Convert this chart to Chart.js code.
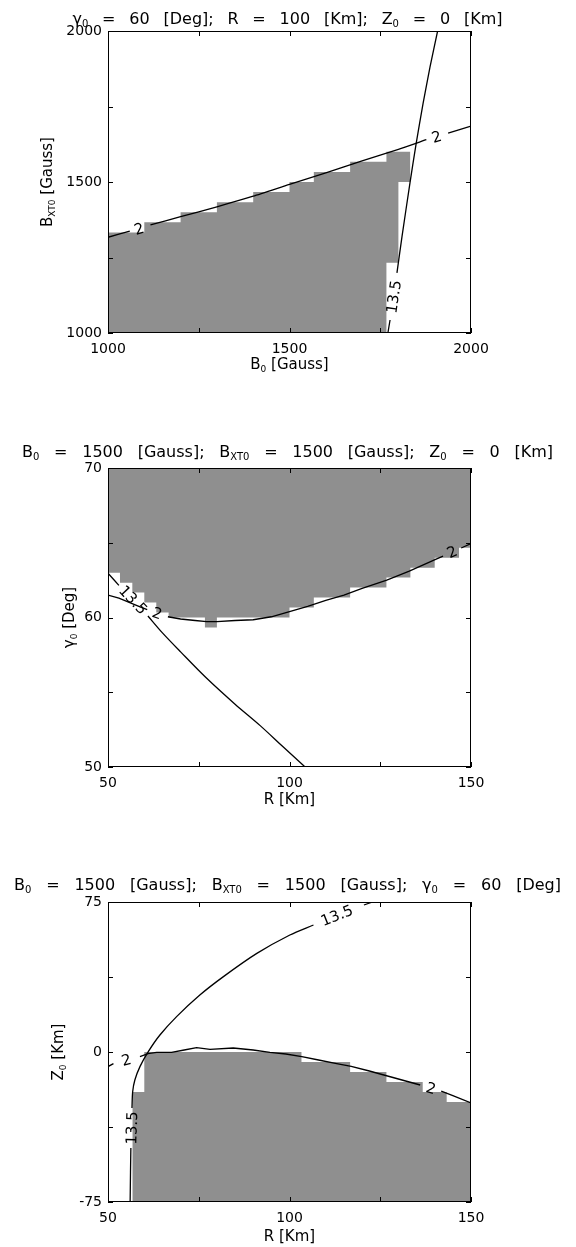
<!DOCTYPE html>
<html><head><meta charset="utf-8">
<script src="https://cdn.jsdelivr.net/npm/chart.js@4.4.1/dist/chart.umd.min.js"></script>
<style>
html,body{margin:0;padding:0;background:#fff;}
body{width:576px;height:1247px;position:relative;overflow:hidden;}
canvas{position:absolute;left:0;}
</style></head>
<body>
<canvas id="c1" width="576" height="400" style="top:0px"></canvas>
<canvas id="c2" width="576" height="440" style="top:400px"></canvas>
<canvas id="c3" width="576" height="407" style="top:840px"></canvas>
<script>
// ---------------- Panel 1 : B0 vs BXT0 ----------------
const p1XTicks = [1000, 1250, 1500, 1750, 2000];
const p1XTickLabels = [1000, 1500, 2000];
const p1YTicks = [1000, 1250, 1500, 1750, 2000];
const p1YTickLabels = [1000, 1500, 2000];
const p1ShadeEdgesB0 = [1000, 1100, 1200, 1300, 1400, 1500, 1567, 1667, 1767, 1833];
const p1ShadeTopBxt0 = [1333, 1367, 1400, 1433, 1467, 1500, 1533, 1567, 1600];
const p1ShadeBaseEdgesB0 = [1000, 1767, 1800, 1833];
const p1ShadeBaseBxt0 = [1000, 1233, 1500];
const p1Level2B0   = [1000, 1060, 1085, 1117, 1200, 1300, 1400, 1500, 1600, 1700, 1800, 1877, 1905, 1937, 2000];
const p1Level2Bxt0 = [1317, 1337, null, 1358, 1385, 1418, 1453, 1492, 1530, 1570, 1608, 1640, null, 1662, 1685];
const p1Level135B0   = [1771, 1777, 1786, 1796, 1810, 1832, 1849, 1868, 1887, 1908];
const p1Level135Bxt0 = [1000, 1043, null, 1199, 1320, 1498, 1628, 1760, 1880, 2000];
const p1LabelText = ['2', '2', '13.5'];
const p1LabelB0   = [1085, 1905, 1786];
const p1LabelBxt0 = [1346, 1651, 1120];
const p1LabelLine = [0, 0, 1];

// ---------------- Panel 2 : R vs gamma0 ----------------
const p2XTicks = [50, 75, 100, 125, 150];
const p2XTickLabels = [50, 100, 150];
const p2YTicks = [50, 55, 60, 65, 70];
const p2YTickLabels = [50, 60, 70];
const p2ShadeEdgesR = [50, 53.3, 56.7, 60, 63.3, 66.7, 76.7, 80, 100, 106.7, 116.7, 126.7, 133.3, 140, 146.7, 150];
const p2ShadeBottomGamma = [63.0, 62.33, 61.67, 61.0, 60.33, 60.0, 59.33, 60.0, 60.67, 61.33, 62.0, 62.67, 63.33, 64.0, 64.67];
const p2Level2R     = [50, 53, 56, 59, 60.8, 63.6, 66.5, 70, 74, 77.2, 80, 85, 90, 95, 100, 105, 110, 115, 120, 126.8, 133, 140.4, 142.3, 144.7, 147.3, 150];
const p2Level2Gamma = [61.5, 61.3, 61.0, 60.7, 60.52, null, 60.05, 59.9, 59.8, 59.72, 59.72, 59.8, 59.85, 60.05, 60.4, 60.75, 61.15, 61.5, 61.95, 62.5, 63.1, 63.9, 64.1, null, 64.65, 64.95];
const p2Level135R     = [50, 53, 57, 61, 65, 70, 76.9, 85, 92, 98, 104.3];
const p2Level135Gamma = [62.96, 62.15, null, 60.1, 58.97, 57.7, 56.0, 54.2, 52.75, 51.4, 50];
const p2LabelText  = ['2', '2', '13.5'];
const p2LabelR     = [63.6, 144.7, 57];
const p2LabelGamma = [60.3, 64.4, 61.2];
const p2LabelLine  = [0, 0, 1];

// ---------------- Panel 3 : R vs Z0 ----------------
const p3XTicks = [50, 75, 100, 125, 150];
const p3XTickLabels = [50, 100, 150];
const p3YTicks = [-75, -37.5, 0, 37.5, 75];
const p3YTickLabels = [-75, 0, 75];
const p3ShadeEdgesR = [56.7, 60, 103.3, 116.7, 126.7, 136.7, 143.3, 150];
const p3ShadeTopZ0  = [-20, 0, -5, -10, -15, -20, -25];
const p3Level2R  = [50, 51.5, 55, 58.8, 61, 63.4, 67.5, 71, 74.4, 78.1, 84.5, 90, 94.6, 99, 103.4, 108, 113, 117, 122, 127, 132, 136, 139, 141.8, 145, 150];
const p3Level2Z0 = [-7.3, -5.8, null, -2.3, -0.8, -0.2, -0.2, 1.0, 2.2, 1.3, 2.0, 1.0, -0.2, -1.0, -2.3, -4.0, -5.8, -7.2, -9.5, -12.0, -14.5, -16.5, null, -19.6, -21.8, -25.5];
const p3Level135R  = [56.1, 56.2, 56.3, 56.45, 56.6, 56.8, 57.4, 58.8, 61.1, 64.3, 68.9, 75.3, 81.8, 91, 100.1, 106.6, 113, 120.5, 124.5];
const p3Level135Z0 = [-75, -60, -48, null, -28, -19.8, -14, -7.3, 0.2, 8.5, 17.7, 28.5, 37.7, 49.3, 58.5, 63.5, null, 73.5, 76];
const p3LabelText = ['2', '2', '13.5', '13.5'];
const p3LabelR    = [55, 139, 56.45, 113];
const p3LabelZ0   = [-3.8, -18, -38, 68.5];
const p3LabelLine = [0, 0, 1, 1];

// ---------------- helpers ----------------
const FONT = '"DejaVu Sans", Verdana, sans-serif';
const GRAY = '#8f8f8f';
const PLOT_LEFT = 108, PLOT_RIGHT = 471, CW = 576;

function pts(xs, ys) { return xs.map((x, i) => ({x: x, y: ys[i]})); }
function steps(edges, vals) {
  const out = [];
  for (let i = 0; i < vals.length; i++) {
    out.push({x: edges[i], y: vals[i]});
    out.push({x: edges[i + 1], y: vals[i]});
  }
  return out;
}
function contourDs(data, tension) {
  return {data: data, borderColor: '#000', borderWidth: 1.3, fill: false, pointRadius: 0,
          tension: tension || 0, spanGaps: false};
}

// rich text with subscripts; extra width distributed into word gaps
function drawRich(ctx, parts, cx, cy, size, target, rot) {
  const main = size + 'px ' + FONT, sub = Math.round(size * 0.62) + 'px ' + FONT;
  ctx.save();
  ctx.font = main;
  const spaceW = ctx.measureText(' ').width;
  const items = [];
  let pending = 0, sumW = 0, nsp = 0;
  parts.forEach(([t, s]) => {
    t.split(' ').forEach((tok, j) => {
      if (j > 0) pending++;
      if (tok.length) {
        ctx.font = s ? sub : main;
        const w = ctx.measureText(tok).width;
        items.push({t: tok, s: s, w: w, sp: pending});
        sumW += w; nsp += pending; pending = 0;
      }
    });
  });
  let gap = spaceW;
  if (target && nsp) gap = Math.max(spaceW * 0.8, (target - sumW) / nsp);
  const total = sumW + gap * nsp;
  ctx.translate(cx, cy);
  if (rot) ctx.rotate(rot);
  ctx.fillStyle = '#000';
  ctx.textAlign = 'left';
  ctx.textBaseline = 'alphabetic';
  let x = -total / 2;
  items.forEach(it => {
    x += it.sp * gap;
    ctx.font = it.s ? sub : main;
    ctx.fillText(it.t, x, size * 0.36 + (it.s ? size * 0.2 : 0));
    x += it.w;
  });
  ctx.restore();
}

function gapAngle(data, lx, ly, xs, ys) {
  let best = null, bd = Infinity;
  for (let i = 1; i < data.length - 1; i++) {
    if (data[i].y === null) {
      const a = data[i - 1], b = data[i + 1];
      const d = Math.hypot(xs.getPixelForValue((a.x + b.x) / 2) - xs.getPixelForValue(lx),
                           ys.getPixelForValue((a.y + b.y) / 2) - ys.getPixelForValue(ly));
      if (d < bd) { bd = d; best = [a, b]; }
    }
  }
  if (!best) return 0;
  const [a, b] = best;
  let ang = Math.atan2(ys.getPixelForValue(b.y) - ys.getPixelForValue(a.y),
                       xs.getPixelForValue(b.x) - xs.getPixelForValue(a.x));
  if (ang > Math.PI / 2) ang -= Math.PI;
  if (ang <= -Math.PI / 2) ang += Math.PI;
  return ang;
}

function makePanel(P) {
  const canvas = document.getElementById(P.canvas);
  const H = canvas.height;
  const top = P.plotTop - P.bandTop, bottom = P.plotBottom - P.bandTop;

  const decor = {
    id: 'decor_' + P.canvas,
    afterDatasetsDraw(chart) {
      const {ctx, chartArea: a, scales: {x, y}} = chart;
      ctx.save();
      ctx.fillStyle = '#000';
      ctx.font = '15px ' + FONT;
      ctx.textAlign = 'center';
      ctx.textBaseline = 'alphabetic';
      P.labels.text.forEach((t, i) => {
        const lx = P.labels.x[i], ly = P.labels.y[i];
        const ang = gapAngle(P.contours[P.labels.line[i]], lx, ly, x, y);
        ctx.save();
        ctx.translate(x.getPixelForValue(lx), y.getPixelForValue(ly));
        ctx.rotate(ang);
        ctx.fillText(t, 0, 15 * 0.36);
        ctx.restore();
      });
      ctx.strokeStyle = '#000';
      ctx.lineWidth = 1;
      ctx.strokeRect(a.left + 0.5, a.top + 0.5, a.right - a.left - 1, a.bottom - a.top - 1);
      const TL = 5;
      ctx.beginPath();
      x.ticks.forEach(t => {
        const px = Math.round(x.getPixelForValue(t.value)) + 0.5;
        ctx.moveTo(px, a.bottom); ctx.lineTo(px, a.bottom - TL);
        ctx.moveTo(px, a.top); ctx.lineTo(px, a.top + TL);
      });
      y.ticks.forEach(t => {
        const py = Math.round(y.getPixelForValue(t.value)) + 0.5;
        ctx.moveTo(a.left, py); ctx.lineTo(a.left + TL, py);
        ctx.moveTo(a.right, py); ctx.lineTo(a.right - TL, py);
      });
      ctx.stroke();
      ctx.restore();
    },
    afterDraw(chart) {
      const ctx = chart.ctx;
      const cxp = (PLOT_LEFT + PLOT_RIGHT) / 2;
      drawRich(ctx, P.title, cxp - 2, P.titleY - P.bandTop, 16, P.titleW, 0);
      drawRich(ctx, P.xTitle, cxp, P.xTitleY - P.bandTop, 15, null, 0);
      drawRich(ctx, P.yTitle, P.yTitleX, (P.plotTop + P.plotBottom) / 2 - P.bandTop, 15, null, -Math.PI / 2);
    }
  };

  return new Chart(canvas, {
    type: 'line',
    data: {datasets: P.datasets},
    options: {
      responsive: false,
      animation: false,
      events: [],
      layout: {padding: {left: 0, right: CW - PLOT_RIGHT, top: top, bottom: 0}},
      plugins: {legend: {display: false}, tooltip: {enabled: false}, filler: {drawTime: 'beforeDatasetsDraw'}},
      elements: {point: {radius: 0}},
      scales: {
        x: {
          type: 'linear', min: P.xMin, max: P.xMax,
          grid: {display: false, drawTicks: false}, border: {display: false},
          afterBuildTicks: s => { s.ticks = P.xTicks.map(v => ({value: v})); },
          afterFit: s => { s.height = H - bottom; },
          ticks: {padding: 8, maxRotation: 0, minRotation: 0, autoSkip: false, color: '#000',
                  font: {family: FONT, size: 14},
                  callback: v => P.xLabels.includes(v) ? String(v) : ''}
        },
        y: {
          type: 'linear', min: P.yMin, max: P.yMax,
          grid: {display: false, drawTicks: false}, border: {display: false},
          afterBuildTicks: s => { s.ticks = P.yTicks.map(v => ({value: v})); },
          afterFit: s => { s.width = PLOT_LEFT; },
          ticks: {padding: 6, autoSkip: false, color: '#000',
                  font: {family: FONT, size: 14},
                  callback: v => P.yLabels.includes(v) ? String(v) : ''}
        }
      }
    },
    plugins: [decor]
  });
}

// ---------------- panel 1 ----------------
const p1C2 = pts(p1Level2B0, p1Level2Bxt0);
const p1C135 = pts(p1Level135B0, p1Level135Bxt0);
makePanel({
  canvas: 'c1', bandTop: 0, plotTop: 31, plotBottom: 333,
  xMin: 1000, xMax: 2000, yMin: 1000, yMax: 2000,
  xTicks: p1XTicks, xLabels: p1XTickLabels, yTicks: p1YTicks, yLabels: p1YTickLabels,
  contours: [p1C2, p1C135],
  labels: {text: p1LabelText, x: p1LabelB0, y: p1LabelBxt0, line: p1LabelLine},
  datasets: [
    contourDs(p1C2, 0.2),
    contourDs(p1C135, 0.2),
    {data: steps(p1ShadeEdgesB0, p1ShadeTopBxt0), borderWidth: 0, borderColor: 'rgba(0,0,0,0)', backgroundColor: GRAY, fill: '+1', pointRadius: 0, tension: 0},
    {data: steps(p1ShadeBaseEdgesB0, p1ShadeBaseBxt0), borderWidth: 0, borderColor: 'rgba(0,0,0,0)', fill: false, pointRadius: 0, tension: 0}
  ],
  title: [['\u03b3', 0], ['0', 1], [' = 60 [Deg]; R = 100 [Km]; Z', 0], ['0', 1], [' = 0 [Km]', 0]],
  titleY: 18, titleW: 430,
  xTitle: [['B', 0], ['0', 1], [' [Gauss]', 0]], xTitleY: 364,
  yTitle: [['B', 0], ['XT0', 1], [' [Gauss]', 0]], yTitleX: 47
});

// ---------------- panel 2 ----------------
const p2C2 = pts(p2Level2R, p2Level2Gamma);
const p2C135 = pts(p2Level135R, p2Level135Gamma);
makePanel({
  canvas: 'c2', bandTop: 400, plotTop: 468, plotBottom: 767,
  xMin: 50, xMax: 150, yMin: 50, yMax: 70,
  xTicks: p2XTicks, xLabels: p2XTickLabels, yTicks: p2YTicks, yLabels: p2YTickLabels,
  contours: [p2C2, p2C135],
  labels: {text: p2LabelText, x: p2LabelR, y: p2LabelGamma, line: p2LabelLine},
  datasets: [
    contourDs(p2C2, 0),
    contourDs(p2C135, 0.3),
    {data: steps(p2ShadeEdgesR, p2ShadeBottomGamma), borderWidth: 0, borderColor: 'rgba(0,0,0,0)', backgroundColor: GRAY, fill: 'end', pointRadius: 0, tension: 0}
  ],
  title: [['B', 0], ['0', 1], [' = 1500 [Gauss]; B', 0], ['XT0', 1], [' = 1500 [Gauss]; Z', 0], ['0', 1], [' = 0 [Km]', 0]],
  titleY: 451, titleW: 531,
  xTitle: [['R [Km]', 0]], xTitleY: 799,
  yTitle: [['\u03b3', 0], ['0', 1], [' [Deg]', 0]], yTitleX: 69
});

// ---------------- panel 3 ----------------
const p3C2 = pts(p3Level2R, p3Level2Z0);
const p3C135 = pts(p3Level135R, p3Level135Z0);
makePanel({
  canvas: 'c3', bandTop: 840, plotTop: 902, plotBottom: 1202,
  xMin: 50, xMax: 150, yMin: -75, yMax: 75,
  xTicks: p3XTicks, xLabels: p3XTickLabels, yTicks: p3YTicks, yLabels: p3YTickLabels,
  contours: [p3C2, p3C135],
  labels: {text: p3LabelText, x: p3LabelR, y: p3LabelZ0, line: p3LabelLine},
  datasets: [
    contourDs(p3C2, 0),
    contourDs(p3C135, 0.3),
    {data: steps(p3ShadeEdgesR, p3ShadeTopZ0), borderWidth: 0, borderColor: 'rgba(0,0,0,0)', backgroundColor: GRAY, fill: 'start', pointRadius: 0, tension: 0}
  ],
  title: [['B', 0], ['0', 1], [' = 1500 [Gauss]; B', 0], ['XT0', 1], [' = 1500 [Gauss]; ', 0], ['\u03b3', 0], ['0', 1], [' = 60 [Deg]', 0]],
  titleY: 884, titleW: 547,
  xTitle: [['R [Km]', 0]], xTitleY: 1236,
  yTitle: [['Z', 0], ['0', 1], [' [Km]', 0]], yTitleX: 58
});
</script>
</body></html>
